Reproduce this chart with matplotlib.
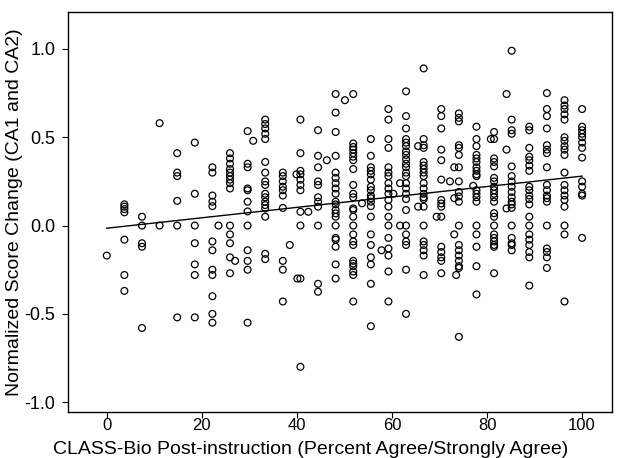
import numpy as np
from matplotlib import pyplot as plt

# 横軸: 27項目中の同意率 (100*k/27)
col_pct = [100 * k / 27 for k in range(28)]

# 各列のスコア変化
col_scores = [
    [-0.17],
    [0.12, 0.107, 0.093, 0.075, -0.08, -0.28, -0.37],
    [0.05, 0.0, -0.10, -0.12, -0.58],
    [0.58, 0.0],
    [0.41, 0.30, 0.28, 0.14, 0.0, -0.52],
    [0.47, 0.18, 0.0, -0.10, -0.22, -0.28, -0.52],
    [0.33, 0.30, 0.17, 0.135, 0.11, -0.09, -0.14, -0.25, -0.28, -0.40, -0.50, -0.55],
    [0.41, 0.38, 0.35, 0.32, 0.30, 0.28, 0.26, 0.24, 0.21, 0.0, -0.05, -0.10, -0.18, -0.27],
    [0.535, 0.35, 0.33, 0.21, 0.20, 0.135, 0.08, 0.0, -0.14, -0.20, -0.25, -0.55],
    [0.60, 0.575, 0.55, 0.52, 0.49, 0.36, 0.30, 0.25, 0.23, 0.18, 0.16, 0.135,
     0.116, 0.097, 0.05, -0.16, -0.19],
    [0.30, 0.28, 0.25, 0.22, 0.20, 0.17, 0.10, -0.20, -0.25, -0.43],
    [0.60, 0.41, 0.31, 0.29, 0.26, 0.23, 0.20, 0.078, 0.0, -0.30, -0.80],
    [0.54, 0.395, 0.33, 0.25, 0.23, 0.16, 0.135, 0.107, 0.0, -0.33, -0.375],
    [0.745, 0.64, 0.53, 0.395, 0.30, 0.27, 0.24, 0.21, 0.18, 0.135, 0.12, 0.088,
     0.069, 0.05, 0.0, -0.07, -0.08, -0.12, -0.22, -0.30],
    [0.745, 0.465, 0.445, 0.43, 0.41, 0.39, 0.37, 0.32, 0.23, 0.18, 0.16, 0.097,
     0.088, 0.05, 0.0, -0.05, -0.09, -0.11, -0.20, -0.215, -0.23, -0.26, -0.28, -0.43],
    [0.49, 0.395, 0.33, 0.31, 0.29, 0.26, 0.22, 0.20, 0.17, 0.155, 0.135, 0.11,
     0.05, -0.05, -0.11, -0.18, -0.22, -0.33, -0.57],
    [0.66, 0.60, 0.49, 0.44, 0.33, 0.30, 0.28, 0.24, 0.21, 0.18, 0.145, 0.107,
     0.05, 0.0, -0.07, -0.13, -0.17, -0.26, -0.43],
    [0.76, 0.62, 0.55, 0.49, 0.47, 0.45, 0.42, 0.40, 0.375, 0.35, 0.33, 0.30, 0.28,
     0.24, 0.21, 0.18, 0.15, 0.088, 0.0, -0.05, -0.09, -0.11, -0.25, -0.50],
    [0.89, 0.49, 0.455, 0.44, 0.36, 0.34, 0.32, 0.30, 0.28, 0.24, 0.21, 0.18, 0.16,
     0.15, 0.107, 0.0, -0.09, -0.11, -0.14, -0.17, -0.28],
    [0.66, 0.62, 0.55, 0.43, 0.37, 0.26, 0.145, 0.125, 0.107, 0.05, -0.12, -0.15,
     -0.18, -0.20, -0.27],
    [0.635, 0.61, 0.59, 0.455, 0.44, 0.40, 0.33, 0.25, 0.19, 0.165, 0.135, 0.0,
     -0.11, -0.14, -0.17, -0.20, -0.23, -0.24, -0.63],
    [0.56, 0.49, 0.45, 0.40, 0.38, 0.36, 0.33, 0.31, 0.29, 0.28, 0.20, 0.18, 0.16,
     0.135, 0.0, -0.05, -0.12, -0.23, -0.39],
    [0.53, 0.49, 0.38, 0.36, 0.335, 0.27, 0.25, 0.22, 0.20, 0.18, 0.16, 0.135, 0.07,
     0.05, 0.0, -0.05, -0.07, -0.09, -0.11, -0.12, -0.27],
    [0.99, 0.60, 0.54, 0.52, 0.335, 0.28, 0.25, 0.22, 0.19, 0.16, 0.135, 0.12, 0.10,
     0.0, -0.07, -0.10, -0.11, -0.14],
    [0.56, 0.54, 0.44, 0.39, 0.37, 0.34, 0.31, 0.22, 0.20, 0.17, 0.15, 0.12, 0.05,
     0.0, -0.05, -0.08, -0.11, -0.15, -0.18, -0.34],
    [0.75, 0.66, 0.62, 0.55, 0.455, 0.43, 0.41, 0.33, 0.23, 0.20, 0.17, 0.155,
     0.135, 0.0, -0.13, -0.15, -0.18, -0.24],
    [0.71, 0.68, 0.66, 0.63, 0.60, 0.50, 0.48, 0.45, 0.43, 0.40, 0.30, 0.23, 0.20,
     0.17, 0.145, 0.107, 0.0, -0.05, -0.43],
    [0.66, 0.56, 0.54, 0.52, 0.50, 0.47, 0.44, 0.385, 0.25, 0.22, 0.18, 0.17, -0.07],
]

# 列からずれた点
extra_pct = [23.5, 27.0, 30.8, 38.5, 39.9, 42.4, 40.1, 46.3, 50.1, 53.7, 57.8, 60.3,
             61.7, 61.7, 65.5, 65.5, 69.4, 72.2, 73.1, 73.1, 73.1, 73.5, 77.1, 80.8,
             84.1, 84.1, 84.1]
extra_scores = [0.0, -0.20, 0.48, -0.11, 0.29, 0.078, -0.30, 0.37, 0.71, 0.126, -0.14,
                0.18, 0.24, 0.0, 0.45, 0.107, 0.05, 0.25, 0.33, 0.155, -0.05, -0.28,
                0.225, 0.49, 0.745, 0.43, 0.097]

# 回帰直線
fit_intercept = -0.015
fit_slope = 0.00295


def main():
    plt.rcParams['font.family'] = ['Liberation Sans', 'DejaVu Sans']

    xs = []
    ys = []
    for pct, scores in zip(col_pct, col_scores):
        xs += [pct] * len(scores)
        ys += scores
    xs += extra_pct
    ys += extra_scores

    fig = plt.figure(figsize=(6.22, 4.58), dpi=100)
    ax = fig.add_axes([0.109, 0.100, 0.875, 0.874])

    ax.scatter(xs, ys, s=24, facecolors='none', edgecolors='black', linewidths=0.9)

    line_x = np.array([0, 100])
    ax.plot(line_x, fit_intercept + fit_slope * line_x, color='black', linewidth=1.0)

    ax.set_xlim(-8.2, 106.3)
    ax.set_ylim(-1.057, 1.21)
    ax.set_xticks([0, 20, 40, 60, 80, 100])
    ax.set_yticks([-1.0, -0.5, 0.0, 0.5, 1.0])
    ax.set_yticklabels(['-1.0', '-0.5', '0.0', '0.5', '1.0'])
    ax.tick_params(length=4, direction='out', colors='black')
    ax.tick_params(axis='y', labelsize=13, pad=5)
    ax.tick_params(axis='x', labelsize=12, pad=0)
    for sp in ax.spines.values():
        sp.set_linewidth(1.0)

    ax.set_xlabel('CLASS-Bio Post-instruction (Percent Agree/Strongly Agree)', fontsize=14,
                  va='baseline')
    ax.xaxis.set_label_coords(0.4467, -0.105)
    ax.set_ylabel('Normalized Score Change (CA1 and CA2)', fontsize=14, labelpad=1)

    fig.savefig('out.png', dpi=100)


if __name__ == '__main__':
    main()
